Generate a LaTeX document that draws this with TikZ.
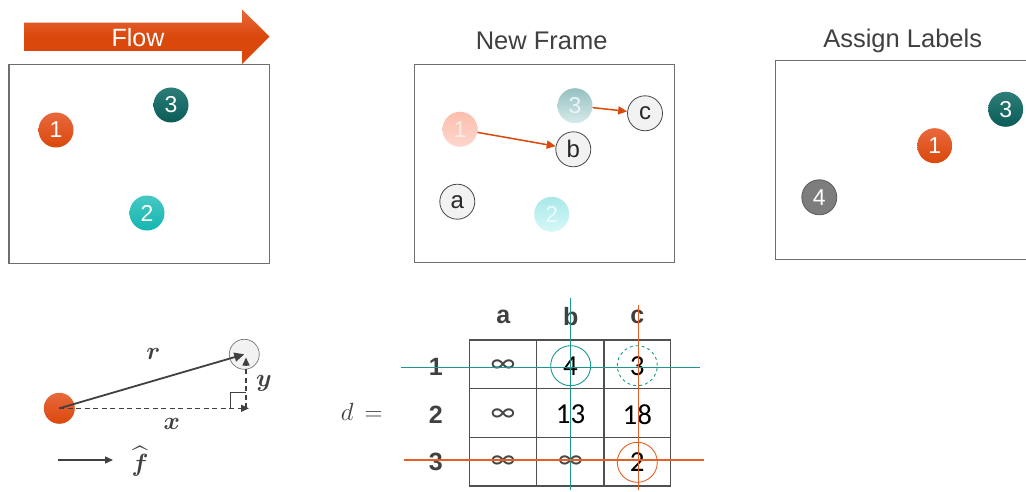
\documentclass[tikz,border=0pt]{standalone}
\usepackage{amsmath,amssymb}
\usepackage{fontspec}
\setsansfont{Liberation Sans}
\newfontfamily\calib{Carlito}
\usetikzlibrary{arrows.meta}
\definecolor{orng}{RGB}{218,72,12}
\definecolor{orngL}{RGB}{232,104,60}
\definecolor{tealD}{RGB}{10,92,88}
\definecolor{tealDL}{RGB}{45,125,120}
\definecolor{tealC}{RGB}{20,182,176}
\definecolor{tealCL}{RGB}{70,200,195}
\definecolor{frm}{RGB}{110,110,110}
\definecolor{txt}{RGB}{64,64,64}
\definecolor{lteal}{RGB}{28,152,146}
\definecolor{lorng}{RGB}{228,96,36}
\tikzset{
  frame/.style={draw=frm, line width=1.1pt},
  ball/.style={circle, minimum size=35pt, inner sep=0pt, font=\sffamily\fontsize{23}{23}\selectfont, text=white},
  b1/.style={ball, top color=orngL, bottom color=orng},
  b2/.style={ball, top color=tealCL, bottom color=tealC},
  b3/.style={ball, top color=tealDL, bottom color=tealD},
  b4/.style={ball, fill={rgb,255:red,125;green,125;blue,125}, draw={rgb,255:red,90;green,90;blue,90}, line width=0.8pt},
  f1/.style={ball, top color={rgb,255:red,252;green,190;blue,172}, bottom color={rgb,255:red,253;green,215;blue,205}, text={rgb,255:red,250;green,235;blue,230}},
  f2/.style={ball, top color={rgb,255:red,168;green,232;blue,232}, bottom color={rgb,255:red,215;green,248;blue,248}, text={rgb,255:red,235;green,250;blue,250}},
  f3/.style={ball, top color={rgb,255:red,150;green,192;blue,192}, bottom color={rgb,255:red,215;green,235;blue,235}, text={rgb,255:red,235;green,245;blue,245}},
  lbl/.style={circle, minimum size=35pt, inner sep=0pt, fill={rgb,255:red,242;green,242;blue,242}, draw={rgb,255:red,70;green,70;blue,70}, line width=0.8pt, font=\sffamily\fontsize{24}{24}\selectfont, text={rgb,255:red,40;green,40;blue,40}},
  title/.style={font=\sffamily\fontsize{25.5}{25.5}\selectfont, text=txt},
  oarrow/.style={draw=orng, line width=1.5pt, -{Triangle[length=9pt,width=8pt]}},
  hdr/.style={font=\sffamily\bfseries\fontsize{25}{25}\selectfont, text=txt},
  cell/.style={font=\calib\fontsize{29}{29}\selectfont, text=black},
  inf/.style={font=\calib\fontsize{29}{29}\selectfont, text={rgb,255:red,70;green,70;blue,70}},
  mth/.style={font=\fontsize{28}{28}\selectfont, text=txt},
  grid/.style={draw={rgb,255:red,80;green,80;blue,80}, line width=1.2pt},
  dk/.style={draw=txt, line width=1.8pt},
  dsh/.style={draw=txt, line width=1.5pt, dash pattern=on 5pt off 3.5pt, -{Triangle[length=8pt,width=7pt]}}
}
\begin{document}
\begin{tikzpicture}[x=1pt,y=-1pt]
\useasboundingbox (0,0) rectangle (1026,492);
\fill[white] (0,0) rectangle (1026,492);
% Flow arrow
\shade[top color=orngL, bottom color=orng, middle color=orng]
  (24,22.7) -- (242,22.7) -- (242,9.3) -- (269.5,36.7) -- (242,64) -- (242,51) -- (24,51) -- cycle;
\node[font=\sffamily\fontsize{25}{25}\selectfont, text=white] (flow) at (138,38) {Flow};
% Frame 1
\draw[frame] (9,64.3) rectangle (269.3,263.3);
\node[b1] (p1) at (56,130) {1};
\node[b3] (p3) at (171,105) {3};
\node[b2] (p2) at (147,213) {2};
% Frame 2
\node[title] (t2) at (541.7,41) {New Frame};
\draw[frame] (414.3,64.3) rectangle (674.7,262.7);
\node[f1] (q1) at (460,129.3) {1};
\node[f3] (q3) at (575,105.7) {3};
\node[f2] (q2) at (551.7,214.3) {2};
\node[lbl] (nb) at (573.3,149.3) {b};
\node[lbl] (nc) at (645,113.3) {c};
\node[lbl] (na) at (457.3,201.7) {a};
\draw[oarrow] (q1) -- (nb);
\draw[oarrow] (q3) -- (nc);
% Frame 3
\node[title] (t3) at (902.7,41) {Assign Labels};
\draw[frame] (1030,60.7) -- (775.7,60.7) -- (775.7,259.3) -- (1030,259.3);
\node[b3] (r3) at (1005.7,109.3) {3};
\node[b1] (r1) at (934.7,145.7) {1};
\node[b4] (r4) at (819.3,197.3) {4};
% Geometry sketch
\node[circle, minimum size=31pt, inner sep=0pt, top color=orngL, bottom color=orng] (o) at (59.3,408.3) {};
\node[circle, minimum size=30pt, inner sep=0pt, fill={rgb,255:red,242;green,242;blue,242}, draw={rgb,255:red,120;green,120;blue,120}, line width=0.7pt] (g) at (244.3,354.3) {};
\coordinate (gx) at (249,408.3);
\coordinate (gy) at (246,357.5);
\coordinate (gyb) at (246,408.3);
\draw[dsh] (o.center) -- (gx);
\draw[dsh] (gyb) -- (gy);
\draw[draw=txt, line width=1pt] (230,408.3) -- (230,392.3) -- (246,392.3);
\draw[dk, -{Triangle[length=10pt,width=9pt]}] (o.center) -- (g.center);
\node[mth] (lr) at (153.3,354) {$\boldsymbol{r}$};
\node[mth] (ly) at (264,383) {$\boldsymbol{y}$};
\node[mth] (lx) at (171.7,424) {$\boldsymbol{x}$};
\coordinate (fa) at (58.3,460);
\coordinate (fb) at (113,460);
\draw[draw=txt, line width=1.5pt, -{Triangle[length=8pt,width=7pt]}] (fa) -- (fb);
\node[mth] (lf) at (140,461) {$\widehat{\boldsymbol{f}}$};
% Matrix
\node[mth] (deq) at (361.7,412) {$d\,=$};
\draw[grid] (469.3,340) rectangle (670.7,486);
\draw[grid] (536.7,340) -- (536.7,486);
\draw[grid] (604,340) -- (604,486);
\draw[grid] (469.3,388.3) -- (670.7,388.3);
\draw[grid] (469.3,437.7) -- (670.7,437.7);
\node[hdr] (ha) at (503.3,317) {a};
\node[hdr] (hb) at (570.7,317) {b};
\node[hdr] (hc) at (637.3,317) {c};
\node[hdr] (h1) at (435.7,366.7) {1};
\node[hdr] (h2) at (435.7,415) {2};
\node[hdr] (h3) at (435.7,462) {3};
\node[inf] (m1a) at (503,366) {∞};
\node[inf] (m2a) at (503,415) {∞};
\node[inf] (m3a) at (503,462) {∞};
\node[cell] (m1b) at (570.5,366) {4};
\node[cell] (m2b) at (570.5,414.5) {13};
\node[inf] (m3b) at (570.5,462) {∞};
\node[cell] (m1c) at (637.3,366) {3};
\node[cell] (m2c) at (637.3,414.5) {18};
\node[cell] (m3c) at (637.3,462) {2};
% colored lines
\coordinate (tl) at (400.7,367.3); \coordinate (tr) at (700,367.3);
\coordinate (tt) at (570.7,298.3); \coordinate (tb) at (570.7,490);
\coordinate (ot) at (638.3,305); \coordinate (ob) at (638.3,490);
\coordinate (ol) at (404,460); \coordinate (or) at (704,460);
\draw[draw=lteal, line width=1.4pt] (tl) -- (tr);
\draw[draw=lteal, line width=1.4pt] (tt) -- (tb);
\draw[draw=lorng, line width=1.4pt] (ot) -- (ob);
\draw[draw=lorng, line width=1.4pt] (ol) -- (or);
\node[circle, minimum size=40pt, inner sep=0pt, draw=lteal, line width=0.9pt] (cb) at (570.7,365.7) {};
\node[circle, minimum size=40pt, inner sep=0pt, draw=lteal, dashed, line width=0.9pt] (cc) at (637.3,365.7) {};
\node[circle, minimum size=40pt, inner sep=0pt, draw=lorng, line width=0.9pt] (co) at (637.3,462.3) {};
\end{tikzpicture}
\end{document}
